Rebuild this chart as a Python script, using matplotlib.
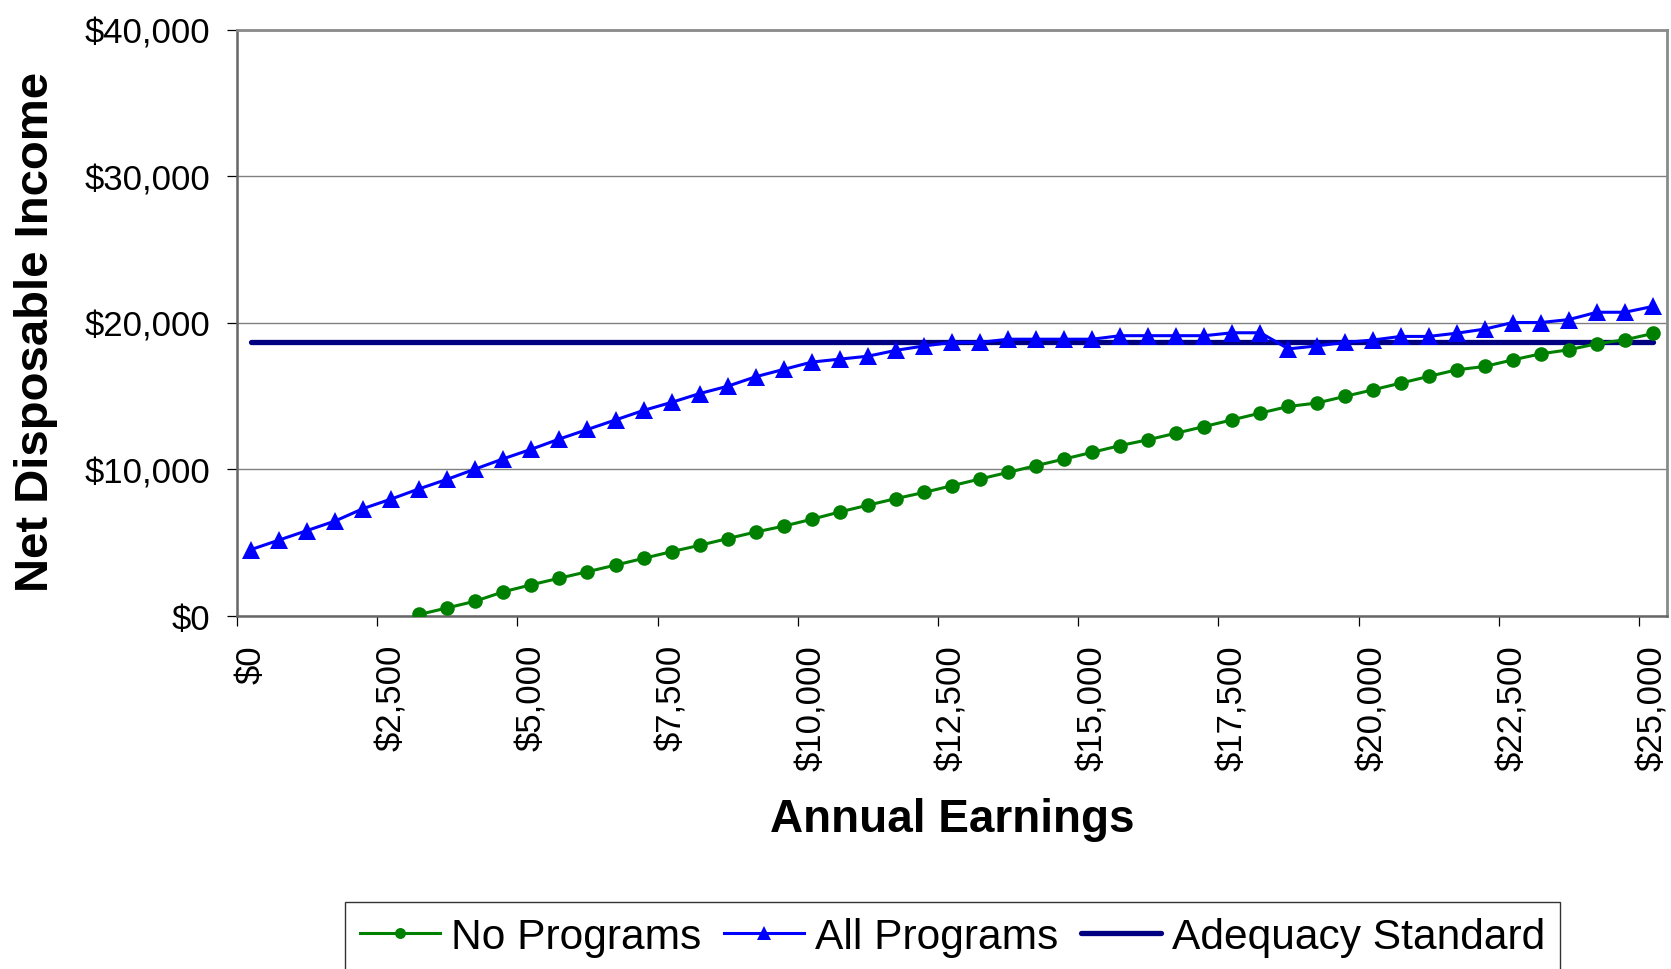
import matplotlib
matplotlib.use('Agg')
import matplotlib.pyplot as plt
import numpy as np

plt.rcParams['font.family'] = ['Liberation Sans', 'DejaVu Sans']

# ---- data ----
earnings = list(range(0, 25001, 500))
nan = float('nan')
no_programs = [nan, nan, nan, nan, nan, nan,
               70, 520, 980, 1620, 2100, 2550, 2990, 3440, 3900, 4360,
               4790, 5250, 5700, 6100, 6570, 7070, 7530, 7980, 8400, 8860,
               9320, 9770, 10230, 10680, 11140, 11600, 12000, 12450, 12900, 13360,
               13820, 14270, 14500, 14950, 15400, 15860, 16320, 16770, 17000, 17450,
               17860, 18140, 18550, 18820, 19250]
all_programs = [4500, 5150, 5800, 6450, 7300, 7950, 8650, 9300, 10000, 10700,
                11350, 12050, 12700, 13350, 14000, 14550, 15150, 15650, 16300, 16800,
                17300, 17500, 17700, 18100, 18400, 18640, 18640, 18860, 18860, 18860,
                18860, 19100, 19100, 19100, 19100, 19300, 19300, 18200, 18400, 18640,
                18800, 19050, 19050, 19270, 19550, 20000, 20000, 20200, 20700, 20700,
                21100]
adequacy_standard = [18650] * len(earnings)

x_tick_labels = ['$0', '$2,500', '$5,000', '$7,500', '$10,000', '$12,500',
                 '$15,000', '$17,500', '$20,000', '$22,500', '$25,000']
y_ticks = [0, 10000, 20000, 30000, 40000]
y_tick_labels = ['$0', '$10,000', '$20,000', '$30,000', '$40,000']
series_names = ['No Programs', 'All Programs', 'Adequacy Standard']

# ---- figure ----
fig = plt.figure(figsize=(16.71, 9.70), dpi=100)
ax = fig.add_axes([0.14183, 0.36443, 0.85577, 0.60412])

idx = np.arange(len(earnings))

l3, = ax.plot(idx, adequacy_standard, color='#000080', lw=3.8,
              solid_capstyle='round', zorder=2)
l1, = ax.plot(idx, no_programs, color='#008000', lw=2.2, marker='o',
              markersize=10.5, markeredgewidth=0, zorder=3)
l2, = ax.plot(idx, all_programs, color='#0000FF', lw=2.2, marker='^',
              markersize=13.5, markeredgewidth=0, zorder=4)

ax.set_xlim(-0.5, len(earnings) - 0.5)
ax.set_ylim(0, 40000)

# x axis: labels at category centres, tick marks at category boundaries
ax.set_xticks(idx[::5])
ax.set_xticklabels(x_tick_labels, rotation=90, fontsize=25)
ax.set_xticks(np.arange(-0.5, len(earnings) - 1, 5), minor=True)
ax.tick_params(axis='x', which='major', length=0, pad=20.5)
ax.tick_params(axis='x', which='minor', length=7.2, width=0.9,
               direction='out', color='black')

ax.set_yticks(y_ticks)
ax.set_yticklabels(y_tick_labels, fontsize=25)
ax.tick_params(axis='y', length=7.2, width=0.9, direction='out',
               color='black', pad=12)

ax.yaxis.grid(True, color='#808080', lw=1.0)
ax.set_axisbelow(True)

for side in ['top', 'right']:
    ax.spines[side].set_color('#8a8a8a')
    ax.spines[side].set_linewidth(2.0)
for side in ['left', 'bottom']:
    ax.spines[side].set_color('#666666')
    ax.spines[side].set_linewidth(1.8)

ax.set_xlabel('Annual Earnings', fontsize=33, fontweight='bold',
              va='baseline', ha='center')
ax.xaxis.set_label_coords(0.5, -0.3677)
ax.set_ylabel('Net Disposable Income', fontsize=34, fontweight='bold',
              va='baseline', ha='center')
ax.yaxis.set_label_coords(-0.1322, 0.4863)

leg = fig.legend([l1, l2, l3], series_names, loc='upper center',
                 bbox_to_anchor=(0.570, 0.0691), ncol=3, fontsize=30.6,
                 frameon=True, fancybox=False, edgecolor='black',
                 handlelength=1.88, handletextpad=0.26, columnspacing=0.54,
                 borderpad=0.35, borderaxespad=0, numpoints=1,
                 markerscale=0.75)
leg.get_frame().set_linewidth(1.0)

fig.savefig('out.png', dpi=100)
